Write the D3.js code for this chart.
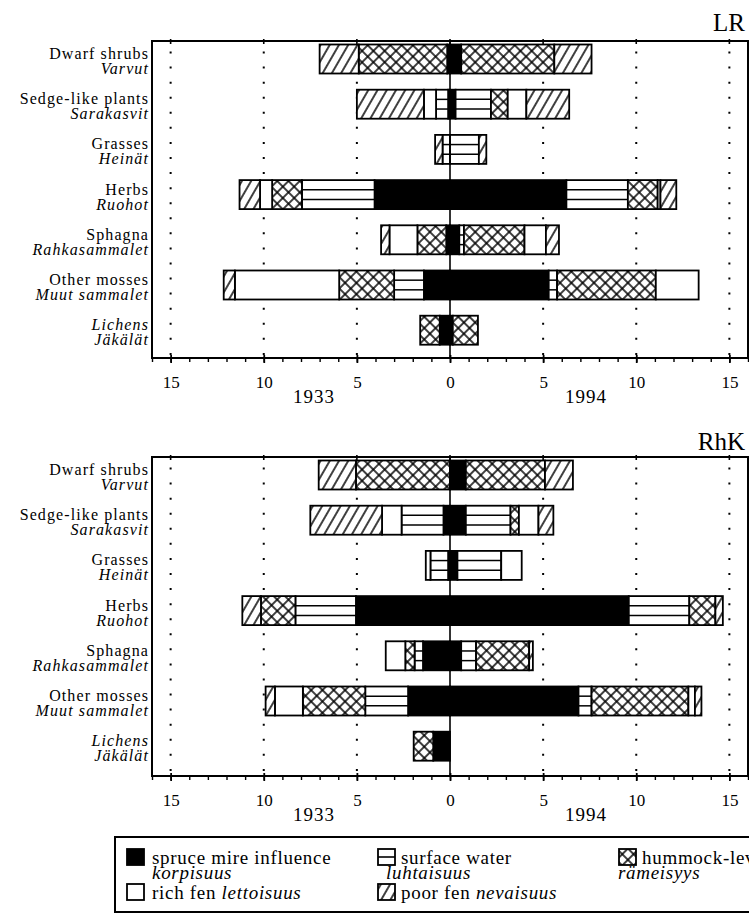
<!DOCTYPE html>
<html>
<head>
<meta charset="utf-8">
<script src="https://cdn.jsdelivr.net/npm/d3@7/dist/d3.min.js"></script>
<style>
body { margin: 0; background: #fff; }
svg { display: block; font-family: "Liberation Serif", "Times New Roman", serif; }
</style>
</head>
<body>
<svg id="chart" width="749" height="913"></svg>
<script>
"use strict";

var categories = ["Dwarf shrubs", "Sedge-like plants", "Grasses", "Herbs", "Sphagna", "Other mosses", "Lichens"];
var categoriesFi = ["Varvut", "Sarakasvit", "Heinät", "Ruohot", "Rahkasammalet", "Muut sammalet", "Jäkälät"];
var xTicks = [-15, -10, -5, 0, 5, 10, 15];
var years = ["1933", "1994"];
var sites = ["LR", "RhK"];
// stacking order from the centre line outwards
var keys = ["spruce", "surface", "hummock", "rich", "poor"];

// LR 1933 (left side)
var lrSpruce33  = [0.15, 0.1, 0, 4.05, 0.2, 1.4, 0.55];
var lrSurface33 = [0, 0.65, 0.4, 3.9, 0, 1.6, 0];
var lrHummock33 = [4.75, 0, 0, 1.6, 1.55, 2.95, 1.05];
var lrRich33    = [0, 0.65, 0, 0.65, 1.5, 5.6, 0];
var lrPoor33    = [2.1, 3.6, 0.4, 1.1, 0.45, 0.6, 0];
// LR 1994 (right side)
var lrSpruce94  = [0.6, 0.3, 0, 6.25, 0.5, 5.3, 0.15];
var lrSurface94 = [0, 1.9, 1.55, 3.3, 0.25, 0.45, 0];
var lrHummock94 = [5.0, 0.9, 0, 1.6, 3.25, 5.3, 1.35];
var lrRich94    = [0, 1.0, 0, 0.15, 1.15, 2.3, 0];
var lrPoor94    = [2.0, 2.3, 0.4, 0.85, 0.7, 0, 0];
// RhK 1933
var rhkSpruce33  = [0, 0.35, 0.1, 5.05, 1.45, 2.25, 0.9];
var rhkSurface33 = [0, 2.25, 0.95, 3.25, 0.45, 2.3, 0];
var rhkHummock33 = [5.05, 0, 0, 1.85, 0.5, 3.35, 1.05];
var rhkRich33    = [0, 1.05, 0.25, 0, 1.05, 1.5, 0];
var rhkPoor33    = [2.0, 3.85, 0, 1.0, 0, 0.5, 0];
// RhK 1994
var rhkSpruce94  = [0.85, 0.85, 0.4, 9.6, 0.6, 6.9, 0];
var rhkSurface94 = [0, 2.4, 2.35, 3.25, 0.8, 0.7, 0];
var rhkHummock94 = [4.25, 0.45, 0, 1.4, 2.85, 5.2, 0];
var rhkRich94    = [0, 1.05, 1.1, 0, 0, 0.35, 0];
var rhkPoor94    = [1.5, 0.8, 0, 0.4, 0.2, 0.35, 0];

var legendKeys = ["spruce", "surface", "hummock", "rich", "poor"];
var legendEn = ["spruce mire influence", "surface water", "hummock-level", "rich fen ", "poor fen "];
var legendFi = ["korpisuus", "luhtaisuus", "rämeisyys", "lettoisuus", "nevaisuus"];

var svg = d3.select("#chart");
var defs = svg.append("defs");

var diag = defs.append("pattern")
  .attr("id", "diag")
  .attr("patternUnits", "userSpaceOnUse")
  .attr("width", 8).attr("height", 8)
  .attr("patternTransform", "rotate(30)");
diag.append("rect").attr("width", 8).attr("height", 8).attr("fill", "#fff");
diag.append("line").attr("x1", 4).attr("y1", -1).attr("x2", 4).attr("y2", 9)
  .attr("stroke", "#000").attr("stroke-width", 1.5);

var cross = defs.append("pattern")
  .attr("id", "cross")
  .attr("patternUnits", "userSpaceOnUse")
  .attr("width", 8).attr("height", 8)
  .attr("patternTransform", "rotate(45)");
cross.append("rect").attr("width", 8).attr("height", 8).attr("fill", "#fff");
cross.append("line").attr("x1", 4).attr("y1", -1).attr("x2", 4).attr("y2", 9)
  .attr("stroke", "#000").attr("stroke-width", 1.5);
cross.append("line").attr("x1", -1).attr("y1", 4).attr("x2", 9).attr("y2", 4)
  .attr("stroke", "#000").attr("stroke-width", 1.5);

var fills = { spruce: "#000", surface: "#fff", hummock: "url(#cross)", rich: "#fff", poor: "url(#diag)" };

var x = d3.scaleLinear().domain([-16, 16]).range([152, 748]);
var barH = 29;

function stackSide(arrs, sign) {
  var segs = [];
  categories.forEach(function(c, i) {
    var pos = 0;
    keys.forEach(function(k, j) {
      var v = arrs[j][i];
      if (v > 0) segs.push({ cat: c, key: k, x0: sign * pos, x1: sign * (pos + v) });
      pos += v;
    });
  });
  return segs;
}

var panels = [
  { title: sites[0], top: 41, bottom: 358, titleY: 31,
    left: [lrSpruce33, lrSurface33, lrHummock33, lrRich33, lrPoor33],
    right: [lrSpruce94, lrSurface94, lrHummock94, lrRich94, lrPoor94] },
  { title: sites[1], top: 457, bottom: 776, titleY: 450,
    left: [rhkSpruce33, rhkSurface33, rhkHummock33, rhkRich33, rhkPoor33],
    right: [rhkSpruce94, rhkSurface94, rhkHummock94, rhkRich94, rhkPoor94] }
];

panels.forEach(function(p) {
  var g = svg.append("g");
  var y = d3.scalePoint().domain(categories)
    .range([p.top + 20, p.top + 20 + 6 * 45.2]);

  // dotted grid
  g.selectAll(".grid")
    .data(xTicks.filter(function(d) { return d !== 0; }))
    .enter().append("line")
    .attr("x1", function(d) { return x(d); })
    .attr("x2", function(d) { return x(d); })
    .attr("y1", p.top + 10.5)
    .attr("y2", p.bottom - 2)
    .attr("stroke", "#000")
    .attr("stroke-width", 2)
    .attr("stroke-dasharray", "2 13.07");

  var segs = stackSide(p.left, -1).concat(stackSide(p.right, 1));

  g.selectAll(".seg")
    .data(segs)
    .enter().append("rect")
    .attr("x", function(d) { return x(Math.min(d.x0, d.x1)); })
    .attr("width", function(d) { return Math.abs(x(d.x1) - x(d.x0)); })
    .attr("y", function(d) { return y(d.cat) - 16.5; })
    .attr("height", barH)
    .attr("fill", function(d) { return fills[d.key]; })
    .attr("stroke", "#000")
    .attr("stroke-width", 1.8);

  // horizontal hatching for surface water
  var surf = segs.filter(function(d) { return d.key === "surface"; });
  [1, 2].forEach(function(n) {
    g.selectAll(".hl" + n)
      .data(surf)
      .enter().append("line")
      .attr("x1", function(d) { return x(Math.min(d.x0, d.x1)); })
      .attr("x2", function(d) { return x(Math.max(d.x0, d.x1)); })
      .attr("y1", function(d) { return y(d.cat) - 16.5 + n * barH / 3; })
      .attr("y2", function(d) { return y(d.cat) - 16.5 + n * barH / 3; })
      .attr("stroke", "#000")
      .attr("stroke-width", 1.5);
  });

  // centre line
  g.append("line")
    .attr("x1", x(0)).attr("x2", x(0))
    .attr("y1", p.top).attr("y2", p.bottom)
    .attr("stroke", "#000").attr("stroke-width", 1.6);

  // frame
  g.append("rect")
    .attr("x", x(-16)).attr("y", p.top)
    .attr("width", x(16) - x(-16)).attr("height", p.bottom - p.top)
    .attr("fill", "none").attr("stroke", "#000").attr("stroke-width", 2);

  // top ticks
  g.selectAll(".tt")
    .data(xTicks)
    .enter().append("line")
    .attr("x1", function(d) { return x(d); })
    .attr("x2", function(d) { return x(d); })
    .attr("y1", p.top - 2).attr("y2", p.top + 3)
    .attr("stroke", "#000").attr("stroke-width", 1.6);

  // bottom axis: minor then major
  var minor = g.append("g")
    .attr("transform", "translate(0," + p.bottom + ")")
    .call(d3.axisBottom(x).tickValues(d3.range(-16, 17)).tickSize(4).tickFormat(""));
  minor.select(".domain").remove();
  minor.selectAll(".tick line").attr("stroke-width", 1.4);

  var major = g.append("g")
    .attr("transform", "translate(0," + p.bottom + ")")
    .call(d3.axisBottom(x).tickValues(xTicks).tickSize(5).tickPadding(13)
      .tickFormat(function(d) { return Math.abs(d); }));
  major.select(".domain").remove();
  major.selectAll(".tick line").attr("y1", -3).attr("stroke-width", 1.8);
  major.selectAll(".tick text")
    .attr("font-family", "Liberation Serif, serif")
    .attr("font-size", 17)
    .attr("fill", "#000");

  g.append("line")
    .attr("x1", x(-16) - 1).attr("x2", x(16) + 1)
    .attr("y1", p.bottom).attr("y2", p.bottom)
    .attr("stroke", "#000").attr("stroke-width", 2.2);

  g.selectAll(".year")
    .data(years)
    .enter().append("text")
    .attr("x", function(d, i) { return x(i === 0 ? -7.3 : 7.3); })
    .attr("y", p.bottom + 45)
    .attr("text-anchor", "middle")
    .attr("font-size", 19)
    .attr("letter-spacing", 1)
    .text(function(d) { return d; });

  // row labels
  var lab = g.selectAll(".lab")
    .data(categories)
    .enter().append("g");
  lab.append("text")
    .attr("x", 149)
    .attr("y", function(d) { return y(d) - 2; })
    .attr("text-anchor", "end")
    .attr("font-size", 16)
    .attr("letter-spacing", 1.1)
    .attr("font-style", function(d) { return d === "Lichens" ? "italic" : "normal"; })
    .text(function(d) { return d; });
  lab.append("text")
    .attr("x", 149)
    .attr("y", function(d) { return y(d) + 13; })
    .attr("text-anchor", "end")
    .attr("font-size", 16)
    .attr("letter-spacing", 1.1)
    .attr("font-style", "italic")
    .text(function(d, i) { return categoriesFi[i]; });

  g.append("text")
    .attr("x", 745).attr("y", p.titleY)
    .attr("text-anchor", "end")
    .attr("font-size", 25)
    .text(p.title);
});

// legend
svg.append("rect")
  .attr("x", 115).attr("y", 837)
  .attr("width", 660).attr("height", 75)
  .attr("fill", "none").attr("stroke", "#000").attr("stroke-width", 2);

var legPos = [
  { sx: 127, tx: 152, fx: 152, row: 0, inline: false },
  { sx: 378, tx: 401, fx: 386, row: 0, inline: false },
  { sx: 619, tx: 642, fx: 618, row: 0, inline: false },
  { sx: 127, tx: 152, row: 1, inline: true },
  { sx: 378, tx: 401, row: 1, inline: true }
];
var rowBase = [864, 899];

var leg = svg.selectAll(".leg")
  .data(legendKeys)
  .enter().append("g");

leg.append("rect")
  .attr("x", function(d, i) { return legPos[i].sx; })
  .attr("y", function(d, i) { return rowBase[legPos[i].row] - 15; })
  .attr("width", 17).attr("height", 16)
  .attr("fill", function(d) { return fills[d]; })
  .attr("stroke", "#000").attr("stroke-width", 1.8);

leg.filter(function(d) { return d === "surface"; })
  .append("line")
  .attr("x1", legPos[1].sx)
  .attr("x2", legPos[1].sx + 17)
  .attr("y1", rowBase[0] - 7).attr("y2", rowBase[0] - 7)
  .attr("stroke", "#000").attr("stroke-width", 1.6);

var lt = leg.append("text")
  .attr("x", function(d, i) { return legPos[i].tx; })
  .attr("y", function(d, i) { return rowBase[legPos[i].row]; })
  .attr("font-size", 19)
  .attr("letter-spacing", 0.7);
lt.append("tspan").text(function(d, i) { return legendEn[i]; });
lt.filter(function(d, i) { return legPos[i].inline; })
  .append("tspan").attr("font-style", "italic")
  .text(function(d) { return legendFi[legendKeys.indexOf(d)]; });

leg.filter(function(d, i) { return !legPos[i].inline; })
  .append("text")
  .attr("x", function(d) { return legPos[legendKeys.indexOf(d)].fx; })
  .attr("y", rowBase[0] + 15)
  .attr("font-size", 19)
  .attr("letter-spacing", 0.7)
  .attr("font-style", "italic")
  .text(function(d) { return legendFi[legendKeys.indexOf(d)]; });
</script>
</body>
</html>
